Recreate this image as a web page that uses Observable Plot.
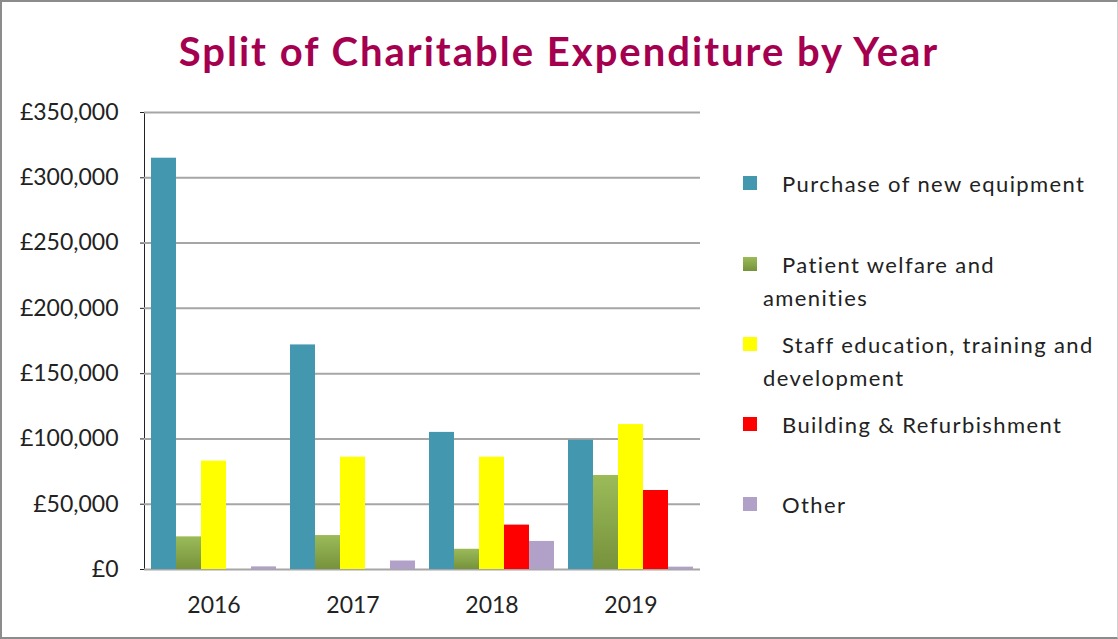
<!DOCTYPE html>
<html>
<head>
<meta charset="utf-8">
<script src="https://cdn.jsdelivr.net/npm/d3@7"></script>
<script src="https://cdn.jsdelivr.net/npm/@observablehq/plot@0.6"></script>
<style>
  html, body { margin: 0; padding: 0; background: #fff; }
  #wrap { position: relative; width: 1118px; height: 639px; overflow: hidden; font-family: Lato, "Open Sans", sans-serif; }
  #wrap svg { position: absolute; left: 0; top: 0; }
  #title { position: absolute; left: 0; width: 1118px; top: 27px; text-align: center; font-weight: bold; font-size: 40px; letter-spacing: 2px; color: #A5004F; line-height: 48px; }
  .lg { position: absolute; font-size: 22px; letter-spacing: 1.4px; color: #222; line-height: 33px; white-space: nowrap; }
  .sw { position: absolute; width: 14px; height: 14px; }
  #border { position: absolute; left: 0; top: 0; width: 1118px; height: 639px; box-sizing: border-box; border: 2px solid #8c8c8c; border-right: 1px solid #cfcfcf; pointer-events: none; }
</style>
</head>
<body>
<div id="wrap">
  <div id="title">Split of Charitable Expenditure by Year</div>
  <div id="legend"></div>
  <div id="border"></div>
</div>
<script>
const years = ["2016", "2017", "2018", "2019"];
const categories = [
  "Purchase of new equipment",
  "Patient welfare and amenities",
  "Staff education, training and development",
  "Building & Refurbishment",
  "Other"
];
const purchaseValues = [315000, 172000, 105000, 99000];
const patientValues = [25000, 26000, 15500, 72000];
const staffValues = [83000, 86000, 86000, 111000];
const buildingValues = [0, 0, 34000, 60500];
const otherValues = [2000, 6500, 21500, 1800];
const yTicks = [0, 50000, 100000, 150000, 200000, 250000, 300000, 350000];
const colors = ["#4397AE", "url(#gGreen)", "#FFFF00", "#FF0000", "#B1A0C7"];
const legendLines = [
  ["Purchase of new equipment"],
  ["Patient welfare and", "amenities"],
  ["Staff education, training and", "development"],
  ["Building & Refurbishment"],
  ["Other"]
];

const seriesValues = [purchaseValues, patientValues, staffValues, buildingValues, otherValues];
const data = [];
years.forEach((yr, i) => {
  categories.forEach((c, j) => data.push({year: yr, category: c, value: seriesValues[j][i]}));
});

const fmt = d => "£" + d3.format(",")(d);

const chart = Plot.plot({
  width: 1118,
  height: 639,
  marginTop: 112,
  marginBottom: 70,
  marginLeft: 144,
  marginRight: 418,
  style: {fontFamily: "Lato, 'Open Sans', sans-serif", fontSize: "23px", color: "#222", background: "transparent"},
  fx: {domain: years, padding: 0, label: null, tickSize: 0, tickPadding: 27, axis: "bottom"},
  x: {domain: categories, paddingInner: 0, paddingOuter: 0.26, axis: null},
  y: {domain: [0, 350000], ticks: yTicks, tickFormat: fmt, tickSize: 4, tickPadding: 22, label: null, line: true},
  color: {domain: categories, range: colors},
  marks: [
    Plot.gridY(yTicks, {stroke: "#a6a6a6", strokeOpacity: 1, strokeWidth: 2}),
    Plot.barY(data, {fx: "year", x: "category", y: "value", fill: "category"})
  ]
});

const defs = document.createElementNS("http://www.w3.org/2000/svg", "defs");
defs.innerHTML = '<linearGradient id="gGreen" x1="0" y1="0" x2="0" y2="1"><stop offset="0" stop-color="#9BBB59"/><stop offset="1" stop-color="#76923C"/></linearGradient>';
chart.insertBefore(defs, chart.firstChild);
document.getElementById("wrap").insertBefore(chart, document.getElementById("title"));

// legend
const legendTops = [176, 257, 337, 417, 497];
const legendEl = document.getElementById("legend");
const swColors = ["#4397AE", "linear-gradient(#9BBB59, #76923C)", "#FFFF00", "#FF0000", "#B1A0C7"];
legendLines.forEach((lines, i) => {
  const sw = document.createElement("div");
  sw.className = "sw";
  sw.style.left = "743px";
  sw.style.top = legendTops[i] + "px";
  sw.style.background = swColors[i];
  legendEl.appendChild(sw);
  lines.forEach((t, k) => {
    const el = document.createElement("div");
    el.className = "lg";
    el.textContent = t;
    el.style.left = (k === 0 ? 782 : 763) + "px";
    el.style.top = (legendTops[i] + 7 - 16.5 + k * 33) + "px";
    legendEl.appendChild(el);
  });
});
</script>
</body>
</html>
